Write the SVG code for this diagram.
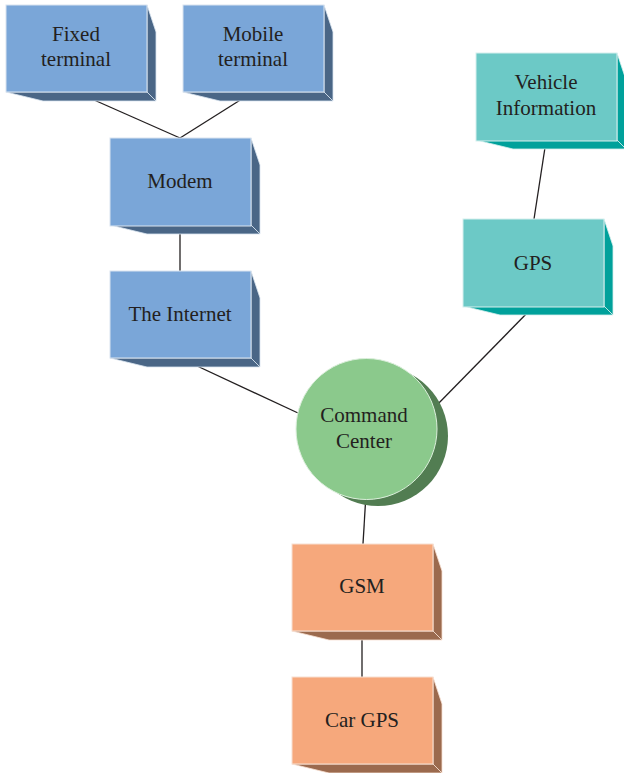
<svg xmlns="http://www.w3.org/2000/svg" width="624" height="773" viewBox="0 0 624 773">
<style>
.t{font-family:"Liberation Serif","DejaVu Serif",serif;font-size:21px;fill:#231f20;text-anchor:middle}
.bf{fill:#7aa6d8;stroke:#d9e4f0;stroke-width:1}
.bs{fill:#4a6686;stroke:#d9e4f0;stroke-width:0.8}
.tf{fill:#6cc9c6;stroke:#d6efee;stroke-width:1}
.ts{fill:#00a19b;stroke:#d6efee;stroke-width:0.8}
.of{fill:#f6a87c;stroke:#f7e0d2;stroke-width:1}
.os{fill:#9b6a4e;stroke:#f7e0d2;stroke-width:0.8}
.c{stroke:#231f20;stroke-width:1.3;fill:none}
</style>
<defs>
<g id="sideB"><path class="bs" d="M141,0 L150,27 L150,96 L141,87 Z"/><path class="bs" d="M0,87 L141,87 L150,96 L37,96 Z"/></g>
<g id="sideT"><path class="ts" d="M141,0 L150,27 L150,96 L141,87 Z"/><path class="ts" d="M0,87 L141,87 L150,96 L37,96 Z"/></g>
<g id="sideO"><path class="os" d="M141,0 L150,27 L150,96 L141,87 Z"/><path class="os" d="M0,87 L141,87 L150,96 L37,96 Z"/></g>
</defs>
<g id="connectors">
<line class="c" x1="76" y1="92" x2="180" y2="138"/>
<line class="c" x1="253" y1="92" x2="180" y2="138"/>
<line class="c" x1="180" y1="226" x2="180" y2="271"/>
<line class="c" x1="180" y1="358" x2="298" y2="413"/>
<line class="c" x1="533" y1="307" x2="434" y2="408"/>
<line class="c" x1="546" y1="141" x2="534" y2="219"/>
<line class="c" x1="366" y1="494" x2="363" y2="544"/>
<line class="c" x1="362" y1="631" x2="362" y2="677"/>
</g>
<g id="fixed-terminal" transform="translate(6,5)">
<use href="#sideB"/><rect class="bf" x="0" y="0" width="141" height="87"/>
<text class="t" x="70" y="36">Fixed</text><text class="t" x="70" y="61">terminal</text>
</g>
<g id="mobile-terminal" transform="translate(183,5)">
<use href="#sideB"/><rect class="bf" x="0" y="0" width="141" height="87"/>
<text class="t" x="70" y="36">Mobile</text><text class="t" x="70" y="61">terminal</text>
</g>
<g id="modem" transform="translate(110,138)">
<use href="#sideB"/><rect class="bf" x="0" y="0" width="141" height="88"/>
<text class="t" x="70" y="50">Modem</text>
</g>
<g id="internet" transform="translate(110,271)">
<use href="#sideB"/><rect class="bf" x="0" y="0" width="141" height="87"/>
<text class="t" x="70" y="50">The Internet</text>
</g>
<g id="vehicle-information" transform="translate(476,53)">
<use href="#sideT"/><rect class="tf" x="0" y="0" width="141" height="88"/>
<text class="t" x="70" y="36">Vehicle</text><text class="t" x="70" y="62">Information</text>
</g>
<g id="gps" transform="translate(463,219)">
<use href="#sideT"/><rect class="tf" x="0" y="0" width="141" height="88"/>
<text class="t" x="70" y="51">GPS</text>
</g>
<g id="command-center">
<circle cx="378" cy="436" r="70" fill="#527d52"/>
<circle cx="366.5" cy="429" r="70.5" fill="#8bc98c" stroke="#dcefdc" stroke-width="1"/>
<text class="t" x="364" y="422">Command</text><text class="t" x="364" y="448">Center</text>
</g>
<g id="gsm" transform="translate(292,544)">
<use href="#sideO"/><rect class="of" x="0" y="0" width="141" height="87"/>
<text class="t" x="70" y="49">GSM</text>
</g>
<g id="car-gps" transform="translate(292,677)">
<use href="#sideO"/><rect class="of" x="0" y="0" width="141" height="87"/>
<text class="t" x="70" y="50">Car GPS</text>
</g>
</svg>
